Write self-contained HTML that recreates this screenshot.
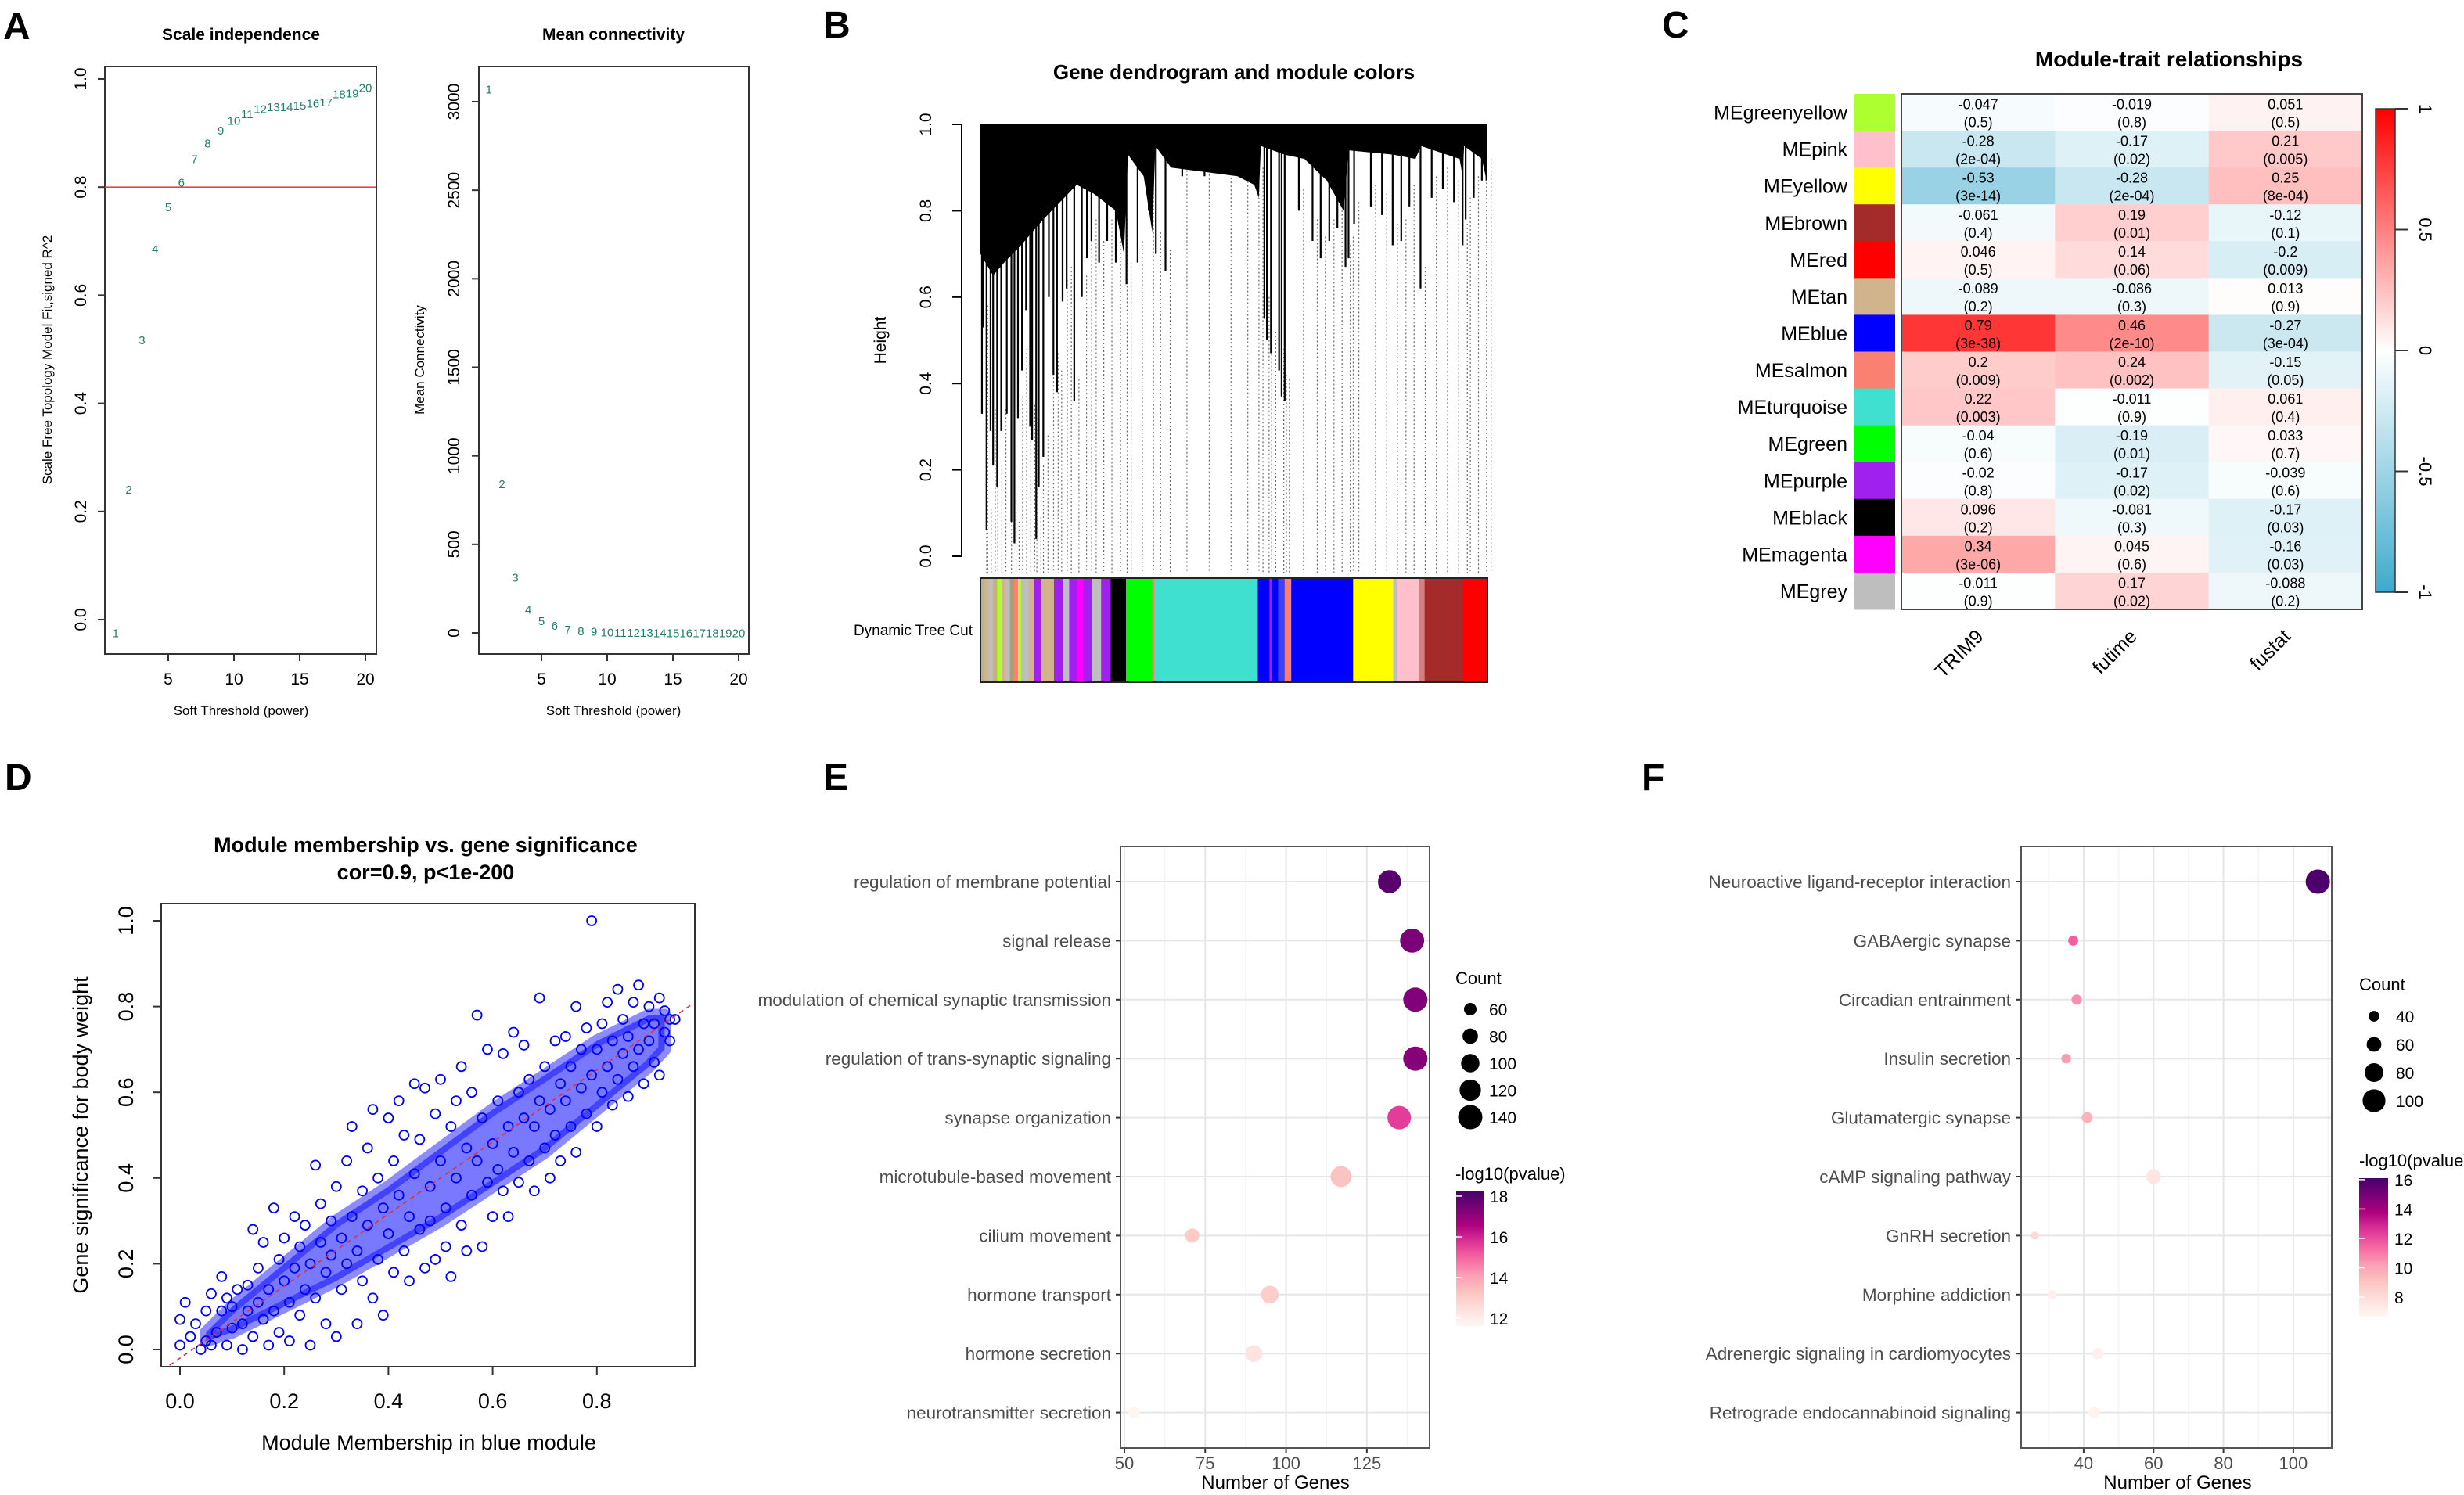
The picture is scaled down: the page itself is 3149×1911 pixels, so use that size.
<!DOCTYPE html>
<html><head><meta charset="utf-8"><title>WGCNA figure</title>
<style>
html,body{margin:0;padding:0;background:#fff;}
svg{display:block;font-family:"Liberation Sans",Arial,sans-serif;}
</style></head>
<body>
<svg id="fig" width="3149" height="1911" viewBox="0 0 3149 1911" xmlns="http://www.w3.org/2000/svg">
<rect x="0" y="0" width="3149" height="1911" fill="#fff"/>
<text x="4" y="50" font-size="48" font-weight="bold">A</text>
<text x="1052" y="48" font-size="48" font-weight="bold">B</text>
<text x="2124" y="48" font-size="48" font-weight="bold">C</text>
<text x="6" y="1010" font-size="48" font-weight="bold">D</text>
<text x="1052" y="1010" font-size="48" font-weight="bold">E</text>
<text x="2098" y="1010" font-size="48" font-weight="bold">F</text>

<text x="308" y="51" font-size="21" font-weight="bold" text-anchor="middle">Scale independence</text>
<text x="784" y="51" font-size="21" font-weight="bold" text-anchor="middle">Mean connectivity</text>
<text x="308" y="914" font-size="17" text-anchor="middle">Soft Threshold (power)</text>
<text x="784" y="914" font-size="17" text-anchor="middle">Soft Threshold (power)</text>
<text transform="translate(66,460) rotate(-90)" font-size="17" text-anchor="middle">Scale Free Topology Model Fit,signed R^2</text>
<text transform="translate(542,460) rotate(-90)" font-size="17" text-anchor="middle">Mean Connectivity</text>

<text x="1577" y="101" font-size="26" font-weight="bold" text-anchor="middle">Gene dendrogram and module colors</text>
<text transform="translate(1132,435) rotate(-90)" font-size="21" text-anchor="middle">Height</text>
<text x="1243" y="812" font-size="19" text-anchor="end">Dynamic Tree Cut</text>

<text x="2772" y="85" font-size="28" font-weight="bold" text-anchor="middle">Module-trait relationships</text>

<text x="544" y="1089" font-size="27" font-weight="bold" text-anchor="middle">Module membership vs. gene significance</text>
<text x="544" y="1124" font-size="27" font-weight="bold" text-anchor="middle">cor=0.9, p&lt;1e-200</text>
<text x="548" y="1853" font-size="27" text-anchor="middle">Module Membership in blue module</text>
<text transform="translate(112,1451) rotate(-90)" font-size="27" text-anchor="middle">Gene significance for body weight</text>

<text x="1630" y="1903" font-size="24" text-anchor="middle">Number of Genes</text>
<text x="2783" y="1903" font-size="24" text-anchor="middle">Number of Genes</text>
<text x="1860" y="1258" font-size="22">Count</text>
<text x="1860" y="1508" font-size="22">-log10(pvalue)</text>
<text x="3015" y="1266" font-size="22">Count</text>
<text x="3015" y="1491" font-size="22">-log10(pvalue)</text>
</svg>

<script>
// ---------- data ----------
const powers = [1,2,3,4,5,6,7,8,9,10,11,12,13,14,15,16,17,18,19,20];
const sftR2 = [-0.024,0.242,0.518,0.687,0.764,0.81,0.853,0.882,0.906,0.924,0.936,0.946,0.949,0.949,0.952,0.956,0.958,0.973,0.975,0.985];
const meanK = [3074,843,316,134,71,45,21,13,10,6,5,4,4,3,3,3,3,3,3,3];
const a1YTicks = [0,0.2,0.4,0.6,0.8,1.0];
const a1YTickLabels = ["0.0","0.2","0.4","0.6","0.8","1.0"];
const a2YTicks = [0,500,1000,1500,2000,2500,3000];
const aXTicks = [5,10,15,20];
const r2Cut = 0.8;

const bYTicks = [0,0.2,0.4,0.6,0.8,1.0];
const bYTickLabels = ["0.0","0.2","0.4","0.6","0.8","1.0"];
const envFrac = [0,0.025,0.047,0.08,0.124,0.157,0.19,0.223,0.267,0.283,0.291,0.322,0.339,0.345,0.376,0.442,0.507,0.54,0.549,0.553,0.6,0.639,0.683,0.716,0.726,0.814,0.858,0.869,0.945,0.951,0.954,0.989,1];
const envH = [0.70,0.65,0.68,0.72,0.78,0.82,0.86,0.84,0.80,0.70,0.93,0.88,0.75,0.95,0.90,0.89,0.88,0.86,0.83,0.95,0.93,0.92,0.87,0.80,0.94,0.93,0.92,0.95,0.92,0.88,0.95,0.92,0.86];
const spikeFrac = [0.003,0.005,0.012,0.02,0.025,0.033,0.041,0.052,0.061,0.067,0.074,0.082,0.09,0.098,0.102,0.11,0.115,0.124,0.135,0.144,0.151,0.162,0.17,0.185,0.2,0.21,0.219,0.234,0.25,0.267,0.28,0.288,0.31,0.332,0.346,0.365,0.398,0.442,0.485,0.518,0.54,0.548,0.56,0.565,0.573,0.589,0.594,0.6,0.628,0.655,0.671,0.688,0.704,0.72,0.726,0.737,0.77,0.792,0.813,0.83,0.846,0.868,0.89,0.912,0.934,0.951,0.957,0.973,0.989,0.998];
const spikeH = [0.33,0.53,0.06,0.29,0.21,0.16,0.29,0.33,0.08,0.03,0.32,0.43,0.57,0.30,0.27,0.04,0.16,0.23,0.60,0.42,0.38,0.59,0.62,0.36,0.60,0.69,0.73,0.68,0.73,0.68,0.73,0.63,0.68,0.80,0.70,0.66,0.88,0.88,0.89,0.90,0.88,0.85,0.55,0.50,0.47,0.43,0.37,0.36,0.80,0.73,0.69,0.73,0.76,0.67,0.69,0.77,0.81,0.79,0.72,0.73,0.81,0.62,0.83,0.85,0.82,0.72,0.78,0.83,0.87,0.87];
const colorSegStart = [0,0.008,0.016,0.025,0.033,0.042,0.05,0.058,0.066,0.074,0.08,0.095,0.106,0.12,0.145,0.163,0.175,0.19,0.203,0.22,0.238,0.257,0.287,0.339,0.343,0.547,0.57,0.575,0.587,0.6,0.613,0.735,0.814,0.822,0.865,0.876,0.951];
const colorSegColor = ["#b4b49c","#d2b48c","#bebebe","#c8b078","#adff2f","#d2b48c","#bebebe","#a8a070","#fa8072","#adff2f","#bebebe","#d2b48c","#a020f0","#d2b48c","#a020f0","#bebebe","#a020f0","#ff00ff","#a020f0","#bebebe","#a020f0","#000000","#00ff00","#fa8072","#40e0d0","#0000ff","#a020f0","#0000ff","#4040ff","#fa8072","#0000ff","#ffff00","#bebebe","#ffc0cb","#d28080","#a52a2a","#ff0000"];

const modules = ["MEgreenyellow","MEpink","MEyellow","MEbrown","MEred","MEtan","MEblue","MEsalmon","MEturquoise","MEgreen","MEpurple","MEblack","MEmagenta","MEgrey"];
const moduleColors = ["#adff2f","#ffc0cb","#ffff00","#a52a2a","#ff0000","#d2b48c","#0000ff","#fa8072","#40e0d0","#00ff00","#a020f0","#000000","#ff00ff","#bebebe"];
const traits = ["TRIM9","futime","fustat"];
const corTRIM9 = [-0.047,-0.28,-0.53,-0.061,0.046,-0.089,0.79,0.2,0.22,-0.04,-0.02,0.096,0.34,-0.011];
const pTRIM9 = ["0.5","2e-04","3e-14","0.4","0.5","0.2","3e-38","0.009","0.003","0.6","0.8","0.2","3e-06","0.9"];
const corFutime = [-0.019,-0.17,-0.28,0.19,0.14,-0.086,0.46,0.24,-0.011,-0.19,-0.17,-0.081,0.045,0.17];
const pFutime = ["0.8","0.02","2e-04","0.01","0.06","0.3","2e-10","0.002","0.9","0.01","0.02","0.3","0.6","0.02"];
const corFustat = [0.051,0.21,0.25,-0.12,-0.2,0.013,-0.27,-0.15,0.061,0.033,-0.039,-0.17,-0.16,-0.088];
const pFustat = ["0.5","0.005","8e-04","0.1","0.009","0.9","3e-04","0.05","0.4","0.7","0.6","0.03","0.03","0.2"];
const cBarTicks = [1,0.5,0,-0.5,-1];

const mmX = [0.00,0.01,0.00,0.02,0.03,0.04,0.05,0.05,0.06,0.06,0.07,0.08,0.08,0.09,0.09,0.10,0.10,0.11,0.12,0.12,0.13,0.13,0.14,0.14,0.15,0.15,0.16,0.16,0.17,0.17,0.18,0.18,0.19,0.19,0.20,0.20,0.21,0.21,0.22,0.22,0.23,0.23,0.24,0.24,0.25,0.25,0.26,0.26,0.27,0.27,0.28,0.28,0.29,0.29,0.30,0.30,0.31,0.31,0.32,0.32,0.33,0.33,0.34,0.34,0.35,0.35,0.36,0.36,0.37,0.37,0.38,0.38,0.39,0.39,0.40,0.40,0.41,0.41,0.42,0.42,0.43,0.43,0.44,0.44,0.45,0.45,0.46,0.46,0.47,0.47,0.48,0.48,0.49,0.49,0.50,0.50,0.51,0.51,0.52,0.52,0.53,0.53,0.54,0.54,0.55,0.55,0.56,0.56,0.57,0.57,0.58,0.58,0.59,0.59,0.60,0.60,0.61,0.61,0.62,0.62,0.63,0.63,0.64,0.64,0.65,0.65,0.66,0.66,0.67,0.67,0.68,0.68,0.69,0.69,0.70,0.70,0.71,0.71,0.72,0.72,0.73,0.73,0.74,0.74,0.75,0.75,0.76,0.76,0.77,0.77,0.78,0.78,0.79,0.79,0.80,0.80,0.81,0.81,0.82,0.82,0.83,0.83,0.84,0.84,0.85,0.85,0.86,0.86,0.87,0.87,0.88,0.88,0.89,0.89,0.90,0.90,0.91,0.91,0.92,0.92,0.93,0.93,0.94,0.94,0.95];
const gsY = [0.01,0.11,0.07,0.03,0.06,0.00,0.02,0.09,0.01,0.13,0.04,0.17,0.09,0.01,0.12,0.05,0.10,0.14,0.06,0.00,0.15,0.09,0.28,0.03,0.19,0.11,0.07,0.25,0.01,0.14,0.33,0.09,0.21,0.04,0.16,0.26,0.11,0.02,0.31,0.19,0.08,0.24,0.14,0.29,0.01,0.20,0.43,0.12,0.34,0.25,0.06,0.18,0.30,0.22,0.03,0.38,0.14,0.26,0.44,0.20,0.52,0.31,0.06,0.23,0.37,0.16,0.47,0.29,0.56,0.12,0.40,0.21,0.33,0.08,0.54,0.27,0.44,0.18,0.58,0.36,0.23,0.50,0.31,0.16,0.62,0.41,0.28,0.49,0.19,0.61,0.38,0.30,0.55,0.21,0.63,0.44,0.33,0.24,0.17,0.52,0.40,0.58,0.66,0.29,0.47,0.23,0.60,0.36,0.78,0.44,0.24,0.54,0.70,0.39,0.48,0.31,0.58,0.42,0.69,0.37,0.52,0.31,0.74,0.46,0.60,0.39,0.54,0.71,0.44,0.63,0.37,0.52,0.82,0.58,0.47,0.66,0.40,0.56,0.72,0.50,0.62,0.44,0.58,0.73,0.52,0.66,0.80,0.46,0.61,0.70,0.55,0.75,1.00,0.64,0.52,0.70,0.60,0.76,0.66,0.81,0.57,0.72,0.84,0.63,0.69,0.77,0.59,0.73,0.66,0.81,0.85,0.70,0.76,0.62,0.72,0.80,0.67,0.76,0.64,0.82,0.74,0.79,0.77,0.72,0.77];
const coreX = [0.05,0.10,0.20,0.30,0.40,0.50,0.60,0.70,0.80,0.90,0.93];
const coreLow = [0.02,0.04,0.10,0.16,0.23,0.30,0.38,0.46,0.56,0.66,0.70];
const coreHigh = [0.04,0.10,0.20,0.30,0.38,0.47,0.56,0.64,0.72,0.78,0.78];
const dTicks = [0,0.2,0.4,0.6,0.8];
const dYTicks = [0,0.2,0.4,0.6,0.8,1.0];
const fitLine = [-0.02,0.98];
const fitSlope = 0.84, fitIntercept = -0.02;

const eTerms = ["regulation of membrane potential","signal release","modulation of chemical synaptic transmission","regulation of trans-synaptic signaling","synapse organization","microtubule-based movement","cilium movement","hormone transport","hormone secretion","neurotransmitter secretion"];
const eCounts = [132,139,140,140,135,117,71,95,90,53];
const eLogP = [18.0,17.4,17.3,17.2,15.6,13.3,13.1,13.0,12.3,11.7];
const eXTicks = [50,75,100,125];
const eSizeBreaks = [60,80,100,120,140];
const eColorBreaks = [18,16,14,12];

const fTerms = ["Neuroactive ligand-receptor interaction","GABAergic synapse","Circadian entrainment","Insulin secretion","Glutamatergic synapse","cAMP signaling pathway","GnRH secretion","Morphine addiction","Adrenergic signaling in cardiomyocytes","Retrograde endocannabinoid signaling"];
const fCounts = [107,37,38,35,41,60,26,31,44,43];
const fLogP = [16.0,11.6,10.6,10.3,9.6,7.6,8.2,7.1,7.0,6.9];
const fXTicks = [40,60,80,100];
const fSizeBreaks = [40,60,80,100];
const fColorBreaks = [16,14,12,10,8];

// ---------- helpers ----------
const NS = 'http://www.w3.org/2000/svg';
const svg = document.getElementById('fig');
function mk(tag, attrs, txt){
  const e = document.createElementNS(NS, tag);
  for (const k in attrs) e.setAttribute(k, attrs[k]);
  if (txt !== undefined) e.textContent = txt;
  svg.appendChild(e);
  return e;
}
function lerp(a,b,t){return a+(b-a)*t;}

// ================= Panel A =================
const A1 = {l:134,r:481,t:85,b:836};
const A2 = {l:612,r:957,t:85,b:836};
const ax = v => 215 + (v-5)*16.8;
const ax2 = v => 692 + (v-5)*16.8;
const ay1 = v => 792 - v*691;
const ay2 = v => 809 - v*(679/3000);

let e;
e = mk('rect',{x:A1.l,y:A1.t,width:A1.r-A1.l,height:A1.b-A1.t,fill:'none',stroke:'#333','stroke-width':2});


e = mk('rect',{x:A2.l,y:A2.t,width:A2.r-A2.l,height:A2.b-A2.t,fill:'none',stroke:'#333','stroke-width':2});



aXTicks.forEach(v=>{
  e = mk('line',{x1:ax(v),x2:ax(v),y1:A1.b,y2:A1.b+9,stroke:'#333','stroke-width':2});
  
  
  e = mk('text',{x:ax(v),y:875,'font-size':21,'text-anchor':'middle'},String(v));
  
  
  e = mk('line',{x1:ax2(v),x2:ax2(v),y1:A2.b,y2:A2.b+9,stroke:'#333','stroke-width':2});
  
  
  e = mk('text',{x:ax2(v),y:875,'font-size':21,'text-anchor':'middle'},String(v));
  
  
});
a1YTicks.forEach((v,i)=>{
  const y = ay1(v);
  e = mk('line',{x1:A1.l-9,x2:A1.l,y1:y,y2:y,stroke:'#333','stroke-width':2});
  
  
  e = mk('text',{transform:`translate(110,${y}) rotate(-90)`,'font-size':21,'text-anchor':'middle'},a1YTickLabels[i]);
  
  
});
a2YTicks.forEach(v=>{
  const y = ay2(v);
  e = mk('line',{x1:A2.l-9,x2:A2.l,y1:y,y2:y,stroke:'#333','stroke-width':2});
  
  
  e = mk('text',{transform:`translate(587,${y}) rotate(-90)`,'font-size':21,'text-anchor':'middle'},String(v));
  
  
});
e = mk('line',{x1:A1.l,x2:A1.r,y1:ay1(r2Cut),y2:ay1(r2Cut),stroke:'#e8453c','stroke-width':1.6});


powers.forEach((p,i)=>{
  e = mk('text',{x:ax(p),y:ay1(sftR2[i])+6,'font-size':15,'text-anchor':'middle',fill:'#1f7f6c'},String(p));
  
  
  e = mk('text',{x:ax2(p),y:ay2(meanK[i])+6,'font-size':15,'text-anchor':'middle',fill:'#1f7f6c'},String(p));
  
  
});

// ================= Panel B =================
const BX0 = 1253, BX1 = 1901;
const bx = f => BX0 + f*(BX1-BX0);
const by = h => 711 - h*552;
e = mk('line',{x1:1229,x2:1229,y1:by(0),y2:by(1),stroke:'#000','stroke-width':2});


bYTicks.forEach((v,i)=>{
  e = mk('line',{x1:1217,x2:1229,y1:by(v),y2:by(v),stroke:'#000','stroke-width':2});
  
  
  e = mk('text',{transform:`translate(1190,${by(v)}) rotate(-90)`,'font-size':21,'text-anchor':'middle'},bYTickLabels[i]);
  
  
});
for (let k=0;k<spikeFrac.length;k++){
  e = mk('line',{x1:bx(spikeFrac[k])+6,x2:bx(spikeFrac[k])+6,y1:by(Math.min(spikeH[k]+0.05,0.95)),y2:733,stroke:'#666','stroke-width':1.2,'stroke-dasharray':'2,3'});
  
  
}
let pts = `${bx(0)},${by(1)} `;
envFrac.forEach((f,i)=>{ pts += `${bx(f)},${by(envH[i])} `; });
pts += `${bx(1)},${by(1)}`;
e = mk('polygon',{points:pts,fill:'#000'});


spikeFrac.forEach((f,i)=>{
  e = mk('line',{x1:bx(f),x2:bx(f),y1:by(1),y2:by(spikeH[i]),stroke:'#000','stroke-width':2.2});
  
  
});
e = mk('line',{x1:bx(0),x2:bx(1),y1:by(1),y2:by(1),stroke:'#000','stroke-width':2});


colorSegStart.forEach((f,i)=>{
  const f2 = i+1<colorSegStart.length ? colorSegStart[i+1] : 1;
  e = mk('rect',{x:bx(f),y:739,width:bx(f2)-bx(f)+0.5,height:133,fill:colorSegColor[i]});
  
  
});
e = mk('rect',{x:BX0,y:739,width:BX1-BX0,height:133,fill:'none',stroke:'#222','stroke-width':2});



// ================= Panel C =================
const CX0 = 2430, CX1 = 3019, CY0 = 120, CY1 = 779;
const rowH = (CY1-CY0)/modules.length, colW = (CX1-CX0)/traits.length;
function bwr(v){
  if (v>=0) return `rgb(255,${Math.round(255*(1-v))},${Math.round(255*(1-v))})`;
  const t=-v; return `rgb(${Math.round(lerp(255,62,t))},${Math.round(lerp(255,170,t))},${Math.round(lerp(255,204,t))})`;
}
const corCols = [corTRIM9,corFutime,corFustat];
const pCols = [pTRIM9,pFutime,pFustat];
modules.forEach((m,r)=>{
  const y = CY0 + r*rowH;
  e = mk('rect',{x:2370,y:y,width:52,height:rowH+0.5,fill:moduleColors[r]});
  
  
  e = mk('text',{x:2361,y:y+rowH/2+9,'font-size':25,'text-anchor':'end'},m);
  
  
  corCols.forEach((col,c)=>{
    const x = CX0 + c*colW;
    e = mk('rect',{x:x,y:y,width:colW+0.5,height:rowH+0.5,fill:bwr(col[r])});
    
    
    e = mk('text',{x:x+colW/2,y:y+rowH/2-4,'font-size':18,'text-anchor':'middle'},String(col[r]));
    
    
    e = mk('text',{x:x+colW/2,y:y+rowH/2+19,'font-size':18,'text-anchor':'middle'},'('+pCols[c][r]+')');
    
    
  });
});
e = mk('rect',{x:CX0,y:CY0,width:CX1-CX0,height:CY1-CY0,fill:'none',stroke:'#444','stroke-width':2});


traits.forEach((t,c)=>{
  const x = CX0 + c*colW + colW/2 + 8;
  e = mk('text',{transform:`translate(${x},${815}) rotate(-45)`,'font-size':25,'text-anchor':'end'},t);
  
  
});
const cbY = v => 448 - v*309;
const defs = mk('defs',{});
const lg = document.createElementNS(NS,'linearGradient');
lg.setAttribute('id','bwrGrad'); lg.setAttribute('x1','0'); lg.setAttribute('y1','0'); lg.setAttribute('x2','0'); lg.setAttribute('y2','1');
[[0,1],[0.25,0.5],[0.5,0],[0.75,-0.5],[1,-1]].forEach(s=>{const st=document.createElementNS(NS,'stop');st.setAttribute('offset',s[0]);st.setAttribute('stop-color',bwr(s[1]));lg.appendChild(st);});
defs.appendChild(lg);
e = mk('rect',{x:3036,y:cbY(1),width:25,height:cbY(-1)-cbY(1),fill:'url(#bwrGrad)',stroke:'#333','stroke-width':1.5});


cBarTicks.forEach(v=>{
  e = mk('line',{x1:3061,x2:3078,y1:cbY(v),y2:cbY(v),stroke:'#333','stroke-width':2});
  
  
  e = mk('text',{transform:`translate(3092,${cbY(v)}) rotate(90)`,'font-size':22,'text-anchor':'middle'},String(v));
  
  
});

// ================= Panel D =================
const dx = v => 230 + v*666;
const dy = v => 1725 - v*548;
let cp = '';
coreX.forEach((x,i)=>{ cp += `${dx(x)},${dy(coreHigh[i])} `; });
for (let i=coreX.length-1;i>=0;i--) cp += `${dx(coreX[i])},${dy(coreLow[i])} `;
e = mk('polygon',{points:cp,fill:'#2020ff','fill-opacity':0.6,stroke:'#0000ff','stroke-width':16,'stroke-linejoin':'round','stroke-opacity':0.45});


mmX.forEach((x,i)=>{
  e = mk('circle',{cx:dx(x),cy:dy(gsY[i]),r:6,fill:'none',stroke:'#0000ff','stroke-width':1.8});
  
  
});
e = mk('line',{x1:dx(fitLine[0]),y1:dy(fitIntercept+fitSlope*fitLine[0]),x2:dx(fitLine[1]),y2:dy(fitIntercept+fitSlope*fitLine[1]),stroke:'#e0303a','stroke-width':1.6,'stroke-dasharray':'6,5'});


e = mk('rect',{x:206,y:1155,width:682,height:592,fill:'none',stroke:'#333','stroke-width':2});


dTicks.forEach(v=>{
  e = mk('line',{x1:dx(v),x2:dx(v),y1:1747,y2:1758,stroke:'#333','stroke-width':2});
  
  
  e = mk('text',{x:dx(v),y:1800,'font-size':27,'text-anchor':'middle'},v.toFixed(1));
  
  
});
dYTicks.forEach(v=>{
  e = mk('line',{x1:195,x2:206,y1:dy(v),y2:dy(v),stroke:'#333','stroke-width':2});
  
  
  e = mk('text',{transform:`translate(170,${dy(v)}) rotate(-90)`,'font-size':27,'text-anchor':'middle'},v.toFixed(1));
  
  
});

// ================= Panels E & F =================
const RdPu = ["#FFF7F3","#FDE0DD","#FCC5C0","#FA9FB5","#F768A1","#DD3497","#AE017E","#7A0177","#49006A"];
function hex2rgb(h){return [parseInt(h.substr(1,2),16),parseInt(h.substr(3,2),16),parseInt(h.substr(5,2),16)];}
function rdpu(t){
  t=Math.max(0,Math.min(1,t)); const s=t*(RdPu.length-1); const i=Math.min(Math.floor(s),RdPu.length-2); const f=s-i;
  const a=hex2rgb(RdPu[i]), b=hex2rgb(RdPu[i+1]);
  return `rgb(${Math.round(lerp(a[0],b[0],f))},${Math.round(lerp(a[1],b[1],f))},${Math.round(lerp(a[2],b[2],f))})`;
}
function dotPlot(cfg){
  const {l,r,t,b,xmin,xmax,terms,counts,logp,xticks,minorTicks,labelX,pmin,pmax,sizeMin,sizeMax,rMin,rMax,prefix,gradId,legend} = cfg;
  const sx = v => l + (v-xmin)/(xmax-xmin)*(r-l);
  const rowY = i => 1127 + i*75.4;
  const rad = c => rMin + (c-sizeMin)/(sizeMax-sizeMin)*(rMax-rMin);
  minorTicks.forEach(v=>{
    e = mk('line',{x1:sx(v),x2:sx(v),y1:t,y2:b,stroke:'#f4f4f4','stroke-width':1.5});
    
    
  });
  xticks.forEach(v=>{
    e = mk('line',{x1:sx(v),x2:sx(v),y1:t,y2:b,stroke:'#e6e6e6','stroke-width':2});
    
    
    e = mk('line',{x1:sx(v),x2:sx(v),y1:b,y2:b+6,stroke:'#333','stroke-width':2});
    
    
    e = mk('text',{x:sx(v),y:b+27,'font-size':22,'text-anchor':'middle',fill:'#4d4d4d'},String(v));
    
    
  });
  terms.forEach((term,i)=>{
    const y = rowY(i);
    e = mk('line',{x1:l,x2:r,y1:y,y2:y,stroke:'#e6e6e6','stroke-width':2});
    
    
    e = mk('line',{x1:l-6,x2:l,y1:y,y2:y,stroke:'#333','stroke-width':2});
    
    
    e = mk('text',{x:labelX,y:y+8,'font-size':22.5,'text-anchor':'end',fill:'#4d4d4d'},term);
    
    
  });
  terms.forEach((term,i)=>{
    e = mk('circle',{cx:sx(counts[i]),cy:rowY(i),r:rad(counts[i]),fill:rdpu((logp[i]-pmin)/(pmax-pmin))});
    
    
  });
  e = mk('rect',{x:l,y:t,width:r-l,height:b-t,fill:'none',stroke:'#555','stroke-width':2});
  
  
  legend.sizeBreaks.forEach((s,i)=>{
    const y = legend.sizeY0 + i*legend.sizeStep;
    e = mk('circle',{cx:legend.cx,cy:y,r:rad(s),fill:'#000'});
    
    
    e = mk('text',{x:legend.lx,y:y+8,'font-size':21},String(s));
    
    
  });
  const g = document.createElementNS(NS,'linearGradient');
  g.setAttribute('id',gradId); g.setAttribute('x1','0'); g.setAttribute('y1','0'); g.setAttribute('x2','0'); g.setAttribute('y2','1');
  for (let k=0;k<=8;k++){const st=document.createElementNS(NS,'stop');st.setAttribute('offset',k/8);st.setAttribute('stop-color',RdPu[8-k]);g.appendChild(st);}
  defs.appendChild(g);
  e = mk('rect',{x:legend.bx,y:legend.by0,width:legend.bw,height:legend.by1-legend.by0,fill:`url(#${gradId})`});
  
  
  const cy = v => legend.by0 + (pmax-v)/(pmax-pmin)*(legend.by1-legend.by0);
  legend.colorBreaks.forEach(v=>{
    e = mk('line',{x1:legend.bx,x2:legend.bx+7,y1:cy(v),y2:cy(v),stroke:'#fff','stroke-width':1.5});
    
    
    e = mk('text',{x:legend.bx+legend.bw+8,y:cy(v)+8,'font-size':21},String(v));
    
    
  });
}
dotPlot({l:1432,r:1827,t:1082,b:1851,xmin:48.8,xmax:144.4,terms:eTerms,counts:eCounts,logp:eLogP,xticks:eXTicks,minorTicks:[62.5,87.5,112.5,137.5],labelX:1420,pmin:11.62,pmax:18.23,sizeMin:60,sizeMax:140,rMin:8,rMax:15.5,prefix:'e',gradId:'rdpuE',
  legend:{sizeBreaks:eSizeBreaks,sizeY0:1290,sizeStep:34.5,cx:1879,lx:1903,bx:1861,bw:35,by0:1523,by1:1695,colorBreaks:eColorBreaks}});
dotPlot({l:2583,r:2980,t:1082,b:1851,xmin:22.1,xmax:111,terms:fTerms,counts:fCounts,logp:fLogP,xticks:fXTicks,minorTicks:[30,50,70,90,110],labelX:2570,pmin:6.67,pmax:16.1,sizeMin:26,sizeMax:107,rMin:5,rMax:15.5,prefix:'f',gradId:'rdpuF',
  legend:{sizeBreaks:fSizeBreaks,sizeY0:1299,sizeStep:36,cx:3034,lx:3062,bx:3015,bw:37,by0:1506,by1:1683,colorBreaks:fColorBreaks}});
</script>
</body></html>
